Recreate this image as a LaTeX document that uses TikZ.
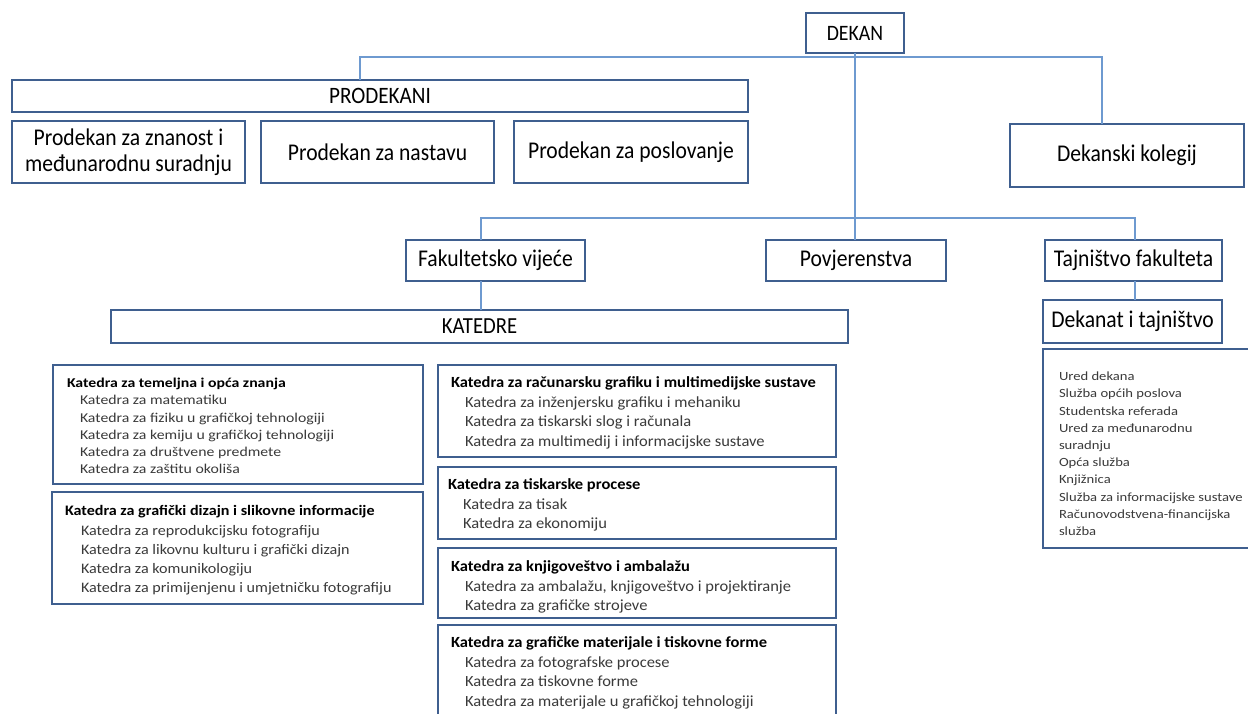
\documentclass[tikz,border=0pt]{standalone}
\usepackage{fontspec}
\setmainfont{Carlito}
\newfontfamily\fTop{Carlito}[FakeStretch=0.9]
\newfontfamily\fA{Carlito}[FakeStretch=1.17]
\newfontfamily\fB{Carlito}[FakeStretch=1.11]
\newfontfamily\fC{Carlito}[FakeStretch=1.065]
\newfontfamily\fL{Carlito}[FakeStretch=1.17]
\definecolor{bx}{HTML}{3F5F8F}
\definecolor{ln}{HTML}{6E9AD0}
\definecolor{it}{HTML}{3A3A3A}
\tikzset{
 box/.style={draw=bx, line width=2.8pt, fill=white, inner sep=0pt, outer sep=0pt, align=center, anchor=north west},
 conn/.style={draw=ln, line width=1.4pt},
 txt/.style={inner sep=0pt, outer sep=0pt, anchor=north west, align=left, text=it},
}
\newcommand{\hd}[1]{{\color{black}\bfseries #1}}
\begin{document}
\begin{tikzpicture}[x=1pt,y=-1pt]
\useasboundingbox (0,0) rectangle (1248,713);
% top level
\node[box, minimum width=98, minimum height=40, font=\fTop\fontsize{22}{26}\selectfont] (dekan) at (806,13) {DEKAN};
\node[box, minimum width=736, minimum height=32, font=\fTop\fontsize{23.5}{26}\selectfont] (prodekani) at (12,80) {PRODEKANI};
\node[box, minimum width=233, minimum height=62, font=\fTop\fontsize{24}{26}\selectfont] (pz) at (12,121) {Prodekan za znanost i\\međunarodnu suradnju};
\node[box, minimum width=233, minimum height=62, font=\fTop\fontsize{24}{26}\selectfont] (pn) at (261,121) {Prodekan za nastavu};
\node[box, minimum width=234, minimum height=62, font=\fTop\fontsize{24}{26}\selectfont] (pp) at (514,121) {Prodekan za poslovanje};
\node[box, minimum width=234, minimum height=63, font=\fTop\fontsize{24}{26}\selectfont] (kol) at (1010,124) {Dekanski kolegij};
% second level
\node[box, minimum width=179, minimum height=41, font=\fTop\fontsize{24}{26}\selectfont] (fak) at (406,240) {Fakultetsko vijeće};
\node[box, minimum width=180, minimum height=41, font=\fTop\fontsize{24}{26}\selectfont] (pov) at (766,240) {Povjerenstva};
\node[box, minimum width=177, minimum height=41, font=\fTop\fontsize{24}{26}\selectfont] (taj) at (1045,240) {Tajništvo fakulteta};
\node[box, minimum width=737, minimum height=33, font=\fTop\fontsize{23}{26}\selectfont] (kat) at (111,310) {KATEDRE};
\node[box, minimum width=179, minimum height=43, font=\fTop\fontsize{24}{26}\selectfont] (dek) at (1043,300) {Dekanat i tajništvo};
% connectors
\coordinate (h1) at (360,57);
\coordinate (h2) at (1102,57);
\coordinate (v1) at (481,218);
\coordinate (v2) at (1135,218);
\draw[conn] (h1 |- prodekani.north) -- (h1) -- (h2) -- (h2 |- kol.north);
\draw[conn] (dekan.south) -- (dekan.south |- pov.north);
\draw[conn] (v1 |- fak.north) -- (v1) -- (v2) -- (v2 |- taj.north);
\draw[conn] (v1 |- fak.south) -- (v1 |- kat.north);
\draw[conn] (v2 |- taj.south) -- (v2 |- dek.north);
% list boxes
\node[box, minimum width=370, minimum height=119] (ka) at (53,365) {};
\node[txt, font=\fA\fontsize{13.5}{17.3}\selectfont] (kat1) at (67,378) {\hd{Katedra za temeljna i opća znanja}\\
\hspace*{13pt}Katedra za matematiku\\
\hspace*{13pt}Katedra za fiziku u grafičkoj tehnologiji\\
\hspace*{13pt}Katedra za kemiju u grafičkoj tehnologiji\\
\hspace*{13pt}Katedra za društvene predmete\\
\hspace*{13pt}Katedra za zaštitu okoliša};
\node[box, minimum width=371, minimum height=112] (kb) at (52,492) {};
\node[txt, font=\fB\fontsize{14.5}{19.3}\selectfont] (kat2) at (65,505.5) {\hd{Katedra za grafički dizajn i slikovne informacije}\\
\hspace*{16pt}Katedra za reprodukcijsku fotografiju\\
\hspace*{16pt}Katedra za likovnu kulturu i grafički dizajn\\
\hspace*{16pt}Katedra za komunikologiju\\
\hspace*{16pt}Katedra za primijenjenu i umjetničku fotografiju};
\node[box, minimum width=398, minimum height=92] (kc) at (438,365) {};
\node[txt, font=\fC\fontsize{15.5}{19.5}\selectfont] (kat3) at (451,377) {\hd{Katedra za računarsku grafiku i multimedijske sustave}\\
\hspace*{14pt}Katedra za inženjersku grafiku i mehaniku\\
\hspace*{14pt}Katedra za tiskarski slog i računala\\
\hspace*{14pt}Katedra za multimedij i informacijske sustave};
\node[box, minimum width=398, minimum height=72] (kd) at (438,467) {};
\node[txt, font=\fC\fontsize{15.5}{19.5}\selectfont] (kat4) at (448,479) {\hd{Katedra za tiskarske procese}\\
\hspace*{15pt}Katedra za tisak\\
\hspace*{15pt}Katedra za ekonomiju};
\node[box, minimum width=398, minimum height=70] (ke) at (438,548) {};
\node[txt, font=\fC\fontsize{15.5}{19.5}\selectfont] (kat5) at (451,561) {\hd{Katedra za knjigoveštvo i ambalažu}\\
\hspace*{14pt}Katedra za ambalažu, knjigoveštvo i projektiranje\\
\hspace*{14pt}Katedra za grafičke strojeve};
\node[box, minimum width=398, minimum height=100] (kf) at (438,625) {};
\node[txt, font=\fC\fontsize{15.5}{19.5}\selectfont] (kat6) at (451,637) {\hd{Katedra za grafičke materijale i tiskovne forme}\\
\hspace*{14pt}Katedra za fotografske procese\\
\hspace*{14pt}Katedra za tiskovne forme\\
\hspace*{14pt}Katedra za materijale u grafičkoj tehnologiji};
\node[box, minimum width=215, minimum height=199] (sl) at (1043,349) {};
\node[txt, font=\fL\fontsize{12.5}{17.2}\selectfont] (slt) at (1059,372) {Ured dekana\\
Služba općih poslova\\
Studentska referada\\
Ured za međunarodnu\\
suradnju\\
Opća služba\\
Knjižnica\\
Služba za informacijske sustave\\
Računovodstvena-financijska\\
služba};
\end{tikzpicture}
\end{document}
